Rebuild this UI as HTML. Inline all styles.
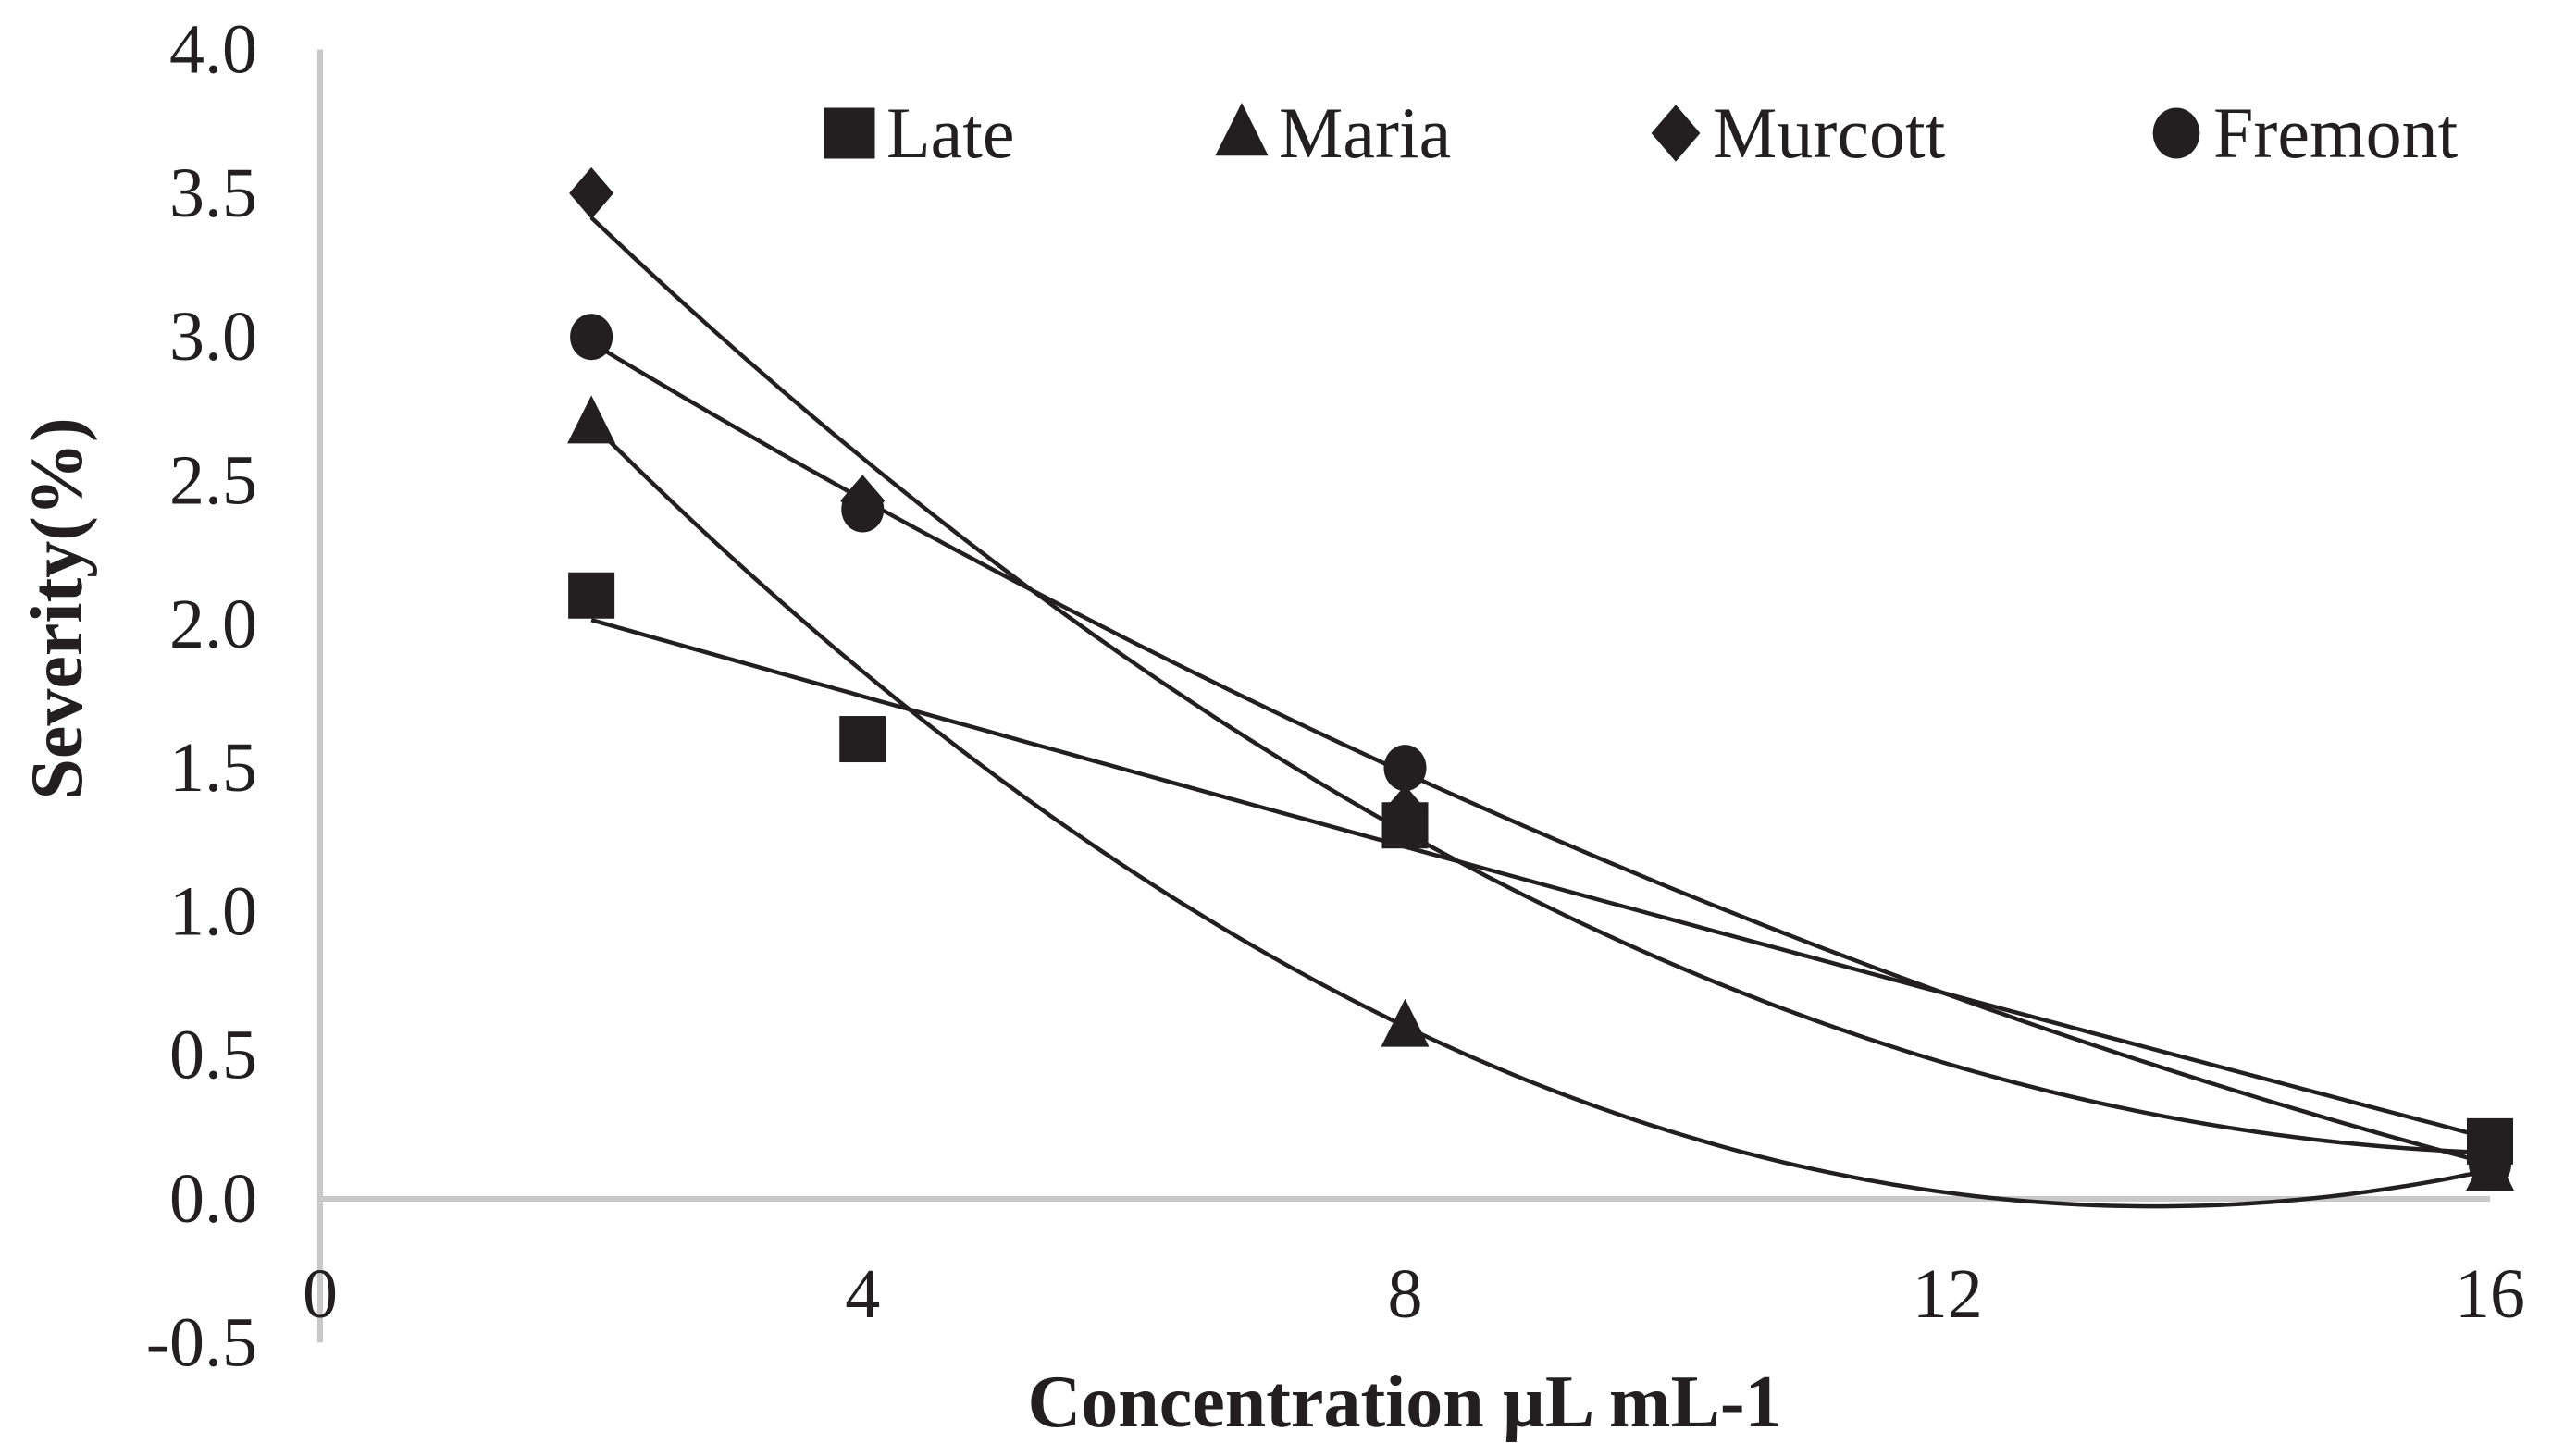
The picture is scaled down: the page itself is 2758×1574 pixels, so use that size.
<!DOCTYPE html>
<html><head><meta charset="utf-8"><style>
html,body{margin:0;padding:0;background:#fff;}
svg{display:block;}
svg text{font-family:"Liberation Serif","DejaVu Serif",serif;}
</style></head><body>
<svg id="chart" width="2758" height="1574" viewBox="0 0 2758 1574" xmlns="http://www.w3.org/2000/svg">
<g id="axes"></g><g id="curves"></g><g id="marks"></g><g id="legend"></g>
<text x="0" y="0" transform="translate(88,658) rotate(-90)" text-anchor="middle" font-family="Liberation Serif, serif" font-size="80" font-weight="bold" fill="#231f20">Severity(%)</text>
<text x="1518" y="1542" text-anchor="middle" font-family="Liberation Serif, serif" font-size="80" font-weight="bold" fill="#231f20">Concentration µL mL-1</text>
</svg>
<script>
const xTicks = [0, 4, 8, 12, 16];
const yTicks = [-0.5, 0, 0.5, 1, 1.5, 2, 2.5, 3, 3.5, 4];
const seriesNames = ["Late", "Maria", "Murcott", "Fremont"];
const lateX = [2, 4, 8, 16];
const lateY = [2.1, 1.6, 1.3, 0.2];
const mariaX = [2, 8, 16];
const mariaY = [2.7, 0.6, 0.1];
const murcottX = [2, 4, 8, 16];
const murcottY = [3.5, 2.43, 1.35, 0.15];
const fremontX = [2, 4, 8, 16];
const fremontY = [3.0, 2.4, 1.5, 0.12];

const NS = "http://www.w3.org/2000/svg";
const FONT = "Liberation Serif, serif";
const X0 = 346, X1 = 2691, Y0 = 1296, PERUNIT = 310.6;
function sx(v){ return X0 + (X1 - X0) * v / 16; }
function sy(v){ return Y0 - v * PERUNIT; }
function mk(tag, attrs, parent){ const e = document.createElementNS(NS, tag); for (const k in attrs) e.setAttribute(k, attrs[k]); parent.appendChild(e); return e; }
const ink = "#231f20";
const axes = document.getElementById("axes");
let yl = mk("line", {x1:X0, x2:X0, y1:sy(4), y2:sy(-0.5), stroke:"#c8c8c8", "stroke-width":6}, axes);


let xl = mk("line", {x1:X0, x2:X1, y1:sy(0), y2:sy(0), stroke:"#c8c8c8", "stroke-width":6}, axes);


yTicks.forEach(t => {
  const e = mk("text", {x:278, y:sy(t)+25, "text-anchor":"end", "font-family":FONT, "font-size":76, fill:ink}, axes);
  e.textContent = t.toFixed(1);
  
  
});
xTicks.forEach(t => {
  const e = mk("text", {x:sx(t), y:1424, "text-anchor":"middle", "font-family":FONT, "font-size":76, fill:ink}, axes);
  e.textContent = String(t);
  
  
});

function fitQuad(xs, ys){
  let n=xs.length, S=[0,0,0,0,0], T=[0,0,0];
  for (let i=0;i<n;i++){ let p=1; for(let k=0;k<5;k++){S[k]+=p; if(k<3) T[k]+=p*ys[i]; p*=xs[i];} }
  const A=[[S[0],S[1],S[2],T[0]],[S[1],S[2],S[3],T[1]],[S[2],S[3],S[4],T[2]]];
  for(let i=0;i<3;i++){ for(let j=i+1;j<3;j++){ const f=A[j][i]/A[i][i]; for(let k=i;k<4;k++) A[j][k]-=f*A[i][k]; } }
  const c=[0,0,0];
  for(let i=2;i>=0;i--){ let s=A[i][3]; for(let k=i+1;k<3;k++) s-=A[i][k]*c[k]; c[i]=s/A[i][i]; }
  return c;
}
const curves = document.getElementById("curves");
const marks = document.getElementById("marks");
const data = [[lateX,lateY,"square"],[mariaX,mariaY,"triangle"],[murcottX,murcottY,"diamond"],[fremontX,fremontY,"circle"]];
function marker(shape, cx, cy, g, s){
  s = s || 1;
  if (shape==="square") return mk("rect",{x:cx-25*s,y:cy-25*s,width:50*s,height:50*s,fill:ink},g);
  if (shape==="triangle") return mk("polygon",{points:`${cx},${cy-30*s} ${cx+26*s},${cy+22*s} ${cx-26*s},${cy+22*s}`,fill:ink},g);
  if (shape==="diamond") return mk("polygon",{points:`${cx},${cy-28*s} ${cx+24*s},${cy} ${cx},${cy+28*s} ${cx-24*s},${cy}`,fill:ink},g);
  return mk("ellipse",{cx:cx,cy:cy,rx:23*s,ry:25*s,fill:ink},g);
}
data.forEach((d, si) => {
  const c = fitQuad(d[0], d[1]);
  let pts = [];
  for (let i=0;i<=140;i++){ const x = 2 + 14*i/140; pts.push(sx(x).toFixed(1)+","+sy(c[0]+c[1]*x+c[2]*x*x).toFixed(1)); }
  const p = mk("polyline",{points:pts.join(" "),fill:"none",stroke:ink,"stroke-width":4.5},curves);
  
  
  d[0].forEach((x, i) => {
    const m = marker(d[2], sx(x), sy(d[1][i]), marks);
    
    
  });
});
const legend = document.getElementById("legend");
const legX = [918, 1342, 1811, 2352];
const shapes = ["square","triangle","diamond","circle"];
seriesNames.forEach((nm, i) => {
  const g = mk("g", {}, legend);
  
  
  marker(shapes[i], legX[i], 144, g, 1.1);
  const t = mk("text",{x:legX[i]+40, y:170, "font-family":FONT, "font-size":78, fill:ink}, g);
  t.textContent = nm;
});
</script>
</body></html>
